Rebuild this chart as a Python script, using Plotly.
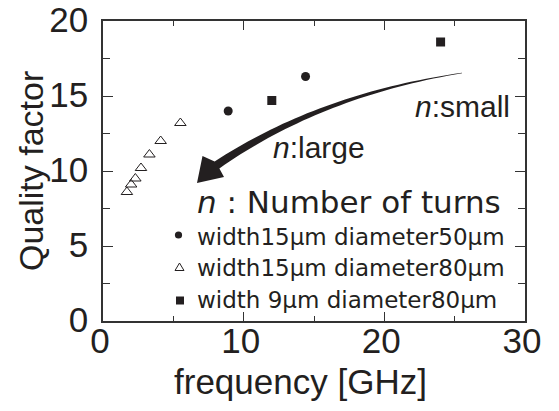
import numpy as np
import plotly.graph_objects as go

# ---- data ----
tri_freq = [1.7, 2.0, 2.3, 2.7, 3.3, 4.1, 5.5]
tri_q = [8.6, 9.1, 9.5, 10.2, 11.1, 12.0, 13.2]
circ_freq = [8.9, 14.4]
circ_q = [14.0, 16.3]
sq_freq = [12.0, 24.0]
sq_q = [14.7, 18.6]

x_ticks = [0, 10, 20, 30]
y_ticks = [0, 5, 10, 15, 20]
x_minor = [5, 15, 25]
y_minor = [2.5, 7.5, 12.5, 17.5]

legend_labels = ["width15\u03bcm diameter50\u03bcm",
                 "width15\u03bcm diameter80\u03bcm",
                 "width 9\u03bcm diameter80\u03bcm"]
key_title = "<i>n</i> : Number of turns"
small_label = "<i>n</i>:small"
large_label = "<i>n</i>:large"

# ---- layout geometry ----
W, H = 559, 411
L, R, T, B = 103, 34, 21, 90
PW = W - L - R
PH = H - T - B
BOT = H - B

def px(x):
    return (x - L) / PW

def py(y):
    return (BOT - y) / PH

ARIAL = "Liberation Sans, Arial, Helvetica, sans-serif"
WIDE = "DejaVu Sans, Verdana, sans-serif"
INK = "#231f20"

fig = go.Figure()
fig.add_trace(go.Scatter(x=circ_freq, y=circ_q, mode="markers",
                         marker=dict(symbol="circle", size=9, color=INK),
                         name=legend_labels[0], showlegend=False))
fig.add_trace(go.Scatter(x=tri_freq, y=tri_q, mode="markers",
                         marker=dict(symbol="triangle-up-open", size=10, color=INK,
                                     line=dict(width=1, color=INK)),
                         name=legend_labels[1], showlegend=False))
fig.add_trace(go.Scatter(x=sq_freq, y=sq_q, mode="markers",
                         marker=dict(symbol="square", size=9, color=INK),
                         name=legend_labels[2], showlegend=False))

# ---- curved tapering arrow (decoration) ----
P0 = np.array([462.0, 73.0])
P1 = np.array([320.0, 95.0])
P2 = np.array([217.0, 165.0])
ts = np.linspace(0, 1, 40)
edgeA, edgeB = [], []
for t in ts:
    c = (1 - t) ** 2 * P0 + 2 * (1 - t) * t * P1 + t ** 2 * P2
    d = 2 * (1 - t) * (P1 - P0) + 2 * t * (P2 - P1)
    d = d / np.linalg.norm(d)
    n = np.array([-d[1], d[0]])
    if n[1] > 0:
        n = -n
    h = 0.3 + 3.9 * t ** 1.1
    edgeA.append(c + h * n)
    edgeB.append(c - h * n)
head = [np.array([202.5, 156.0]), np.array([197.0, 183.0]), np.array([224.0, 177.0])]
pts = edgeA + head + edgeB[::-1]
path = "M " + " L ".join(f"{px(p[0]):.5f},{py(p[1]):.5f}" for p in pts) + " Z"
shapes = [dict(type="path", xref="paper", yref="paper", path=path,
               fillcolor=INK, line=dict(width=0))]

# ---- key markers ----
cx, cy = 178.5, 235.0
r = 3.6
shapes.append(dict(type="circle", xref="paper", yref="paper",
                   x0=px(cx - r), x1=px(cx + r), y0=py(cy + r), y1=py(cy - r),
                   fillcolor=INK, line=dict(width=0)))
tx, ty = 179.5, 267.0
tri = [(tx - 4.5, ty + 3.5), (tx + 4.5, ty + 3.5), (tx, ty - 4.0)]
shapes.append(dict(type="path", xref="paper", yref="paper",
                   path="M " + " L ".join(f"{px(a):.5f},{py(b):.5f}" for a, b in tri) + " Z",
                   fillcolor="white", line=dict(width=1, color=INK)))
sx, sy = 180.0, 300.5
s = 4.0
shapes.append(dict(type="rect", xref="paper", yref="paper",
                   x0=px(sx - s), x1=px(sx + s), y0=py(sy + s), y1=py(sy - s),
                   fillcolor=INK, line=dict(width=0)))

# ---- texts ----
ann = []
ann.append(dict(text=small_label, x=px(512), y=py(106.5), xref="paper", yref="paper",
                xanchor="right", yanchor="middle", showarrow=False,
                font=dict(family=ARIAL, size=30, color=INK)))
ann.append(dict(text=large_label, x=px(271), y=py(147.5), xref="paper", yref="paper",
                xanchor="left", yanchor="middle", showarrow=False,
                font=dict(family=ARIAL, size=30, color=INK)))
ann.append(dict(text=key_title, x=px(195), y=py(202), xref="paper", yref="paper",
                xanchor="left", yanchor="middle", showarrow=False,
                font=dict(family=WIDE, size=31, color=INK)))
for lbl, yb in zip(legend_labels, [237, 268, 300]):
    ann.append(dict(text=lbl, x=px(195), y=py(yb), xref="paper", yref="paper",
                    xanchor="left", yanchor="middle", showarrow=False,
                    font=dict(family=WIDE, size=23, color=INK)))
# axis titles
ann.append(dict(text="frequency [GHz]", x=px(300), y=py(381), xref="paper", yref="paper",
                xanchor="center", yanchor="middle", showarrow=False,
                font=dict(family=ARIAL, size=35, color=INK)))
ann.append(dict(text="Quality factor", x=px(31), y=0.5, xref="paper", yref="paper",
                xanchor="center", yanchor="middle", showarrow=False, textangle=-90,
                font=dict(family=ARIAL, size=34, color=INK)))

axis_common = dict(showgrid=False, zeroline=False, showline=True, linecolor="#333333",
                   linewidth=1.5, mirror="allticks", ticks="inside", tickcolor="#333333",
                   tickwidth=1.2, ticklabeloverflow="allow", automargin=False,
                   tickfont=dict(family=ARIAL, size=35, color=INK))

fig.update_layout(
    width=W, height=H,
    margin=dict(l=L, r=R, t=T, b=B, pad=0, autoexpand=False),
    paper_bgcolor="white", plot_bgcolor="white",
    showlegend=False,
    shapes=shapes, annotations=ann,
    xaxis=dict(range=[0, 30], tickvals=x_ticks, ticklen=9, ticklabelshift=-3,
               ticklabelstandoff=-12,
               minor=dict(tickvals=x_minor, ticks="inside", ticklen=5,
                          tickcolor="#333333", tickwidth=1.2, showgrid=False),
               **axis_common),
    yaxis=dict(range=[0, 20], tickvals=y_ticks, ticklen=10, ticklabelshift=-1,
               ticklabelstandoff=6,
               minor=dict(tickvals=y_minor, ticks="inside", ticklen=7,
                          tickcolor="#333333", tickwidth=1.2, showgrid=False),
               **axis_common),
)

fig.write_html("out.html",
               config={"displayModeBar": False},
               post_script="document.body.style.margin='0';document.body.style.padding='0';")
